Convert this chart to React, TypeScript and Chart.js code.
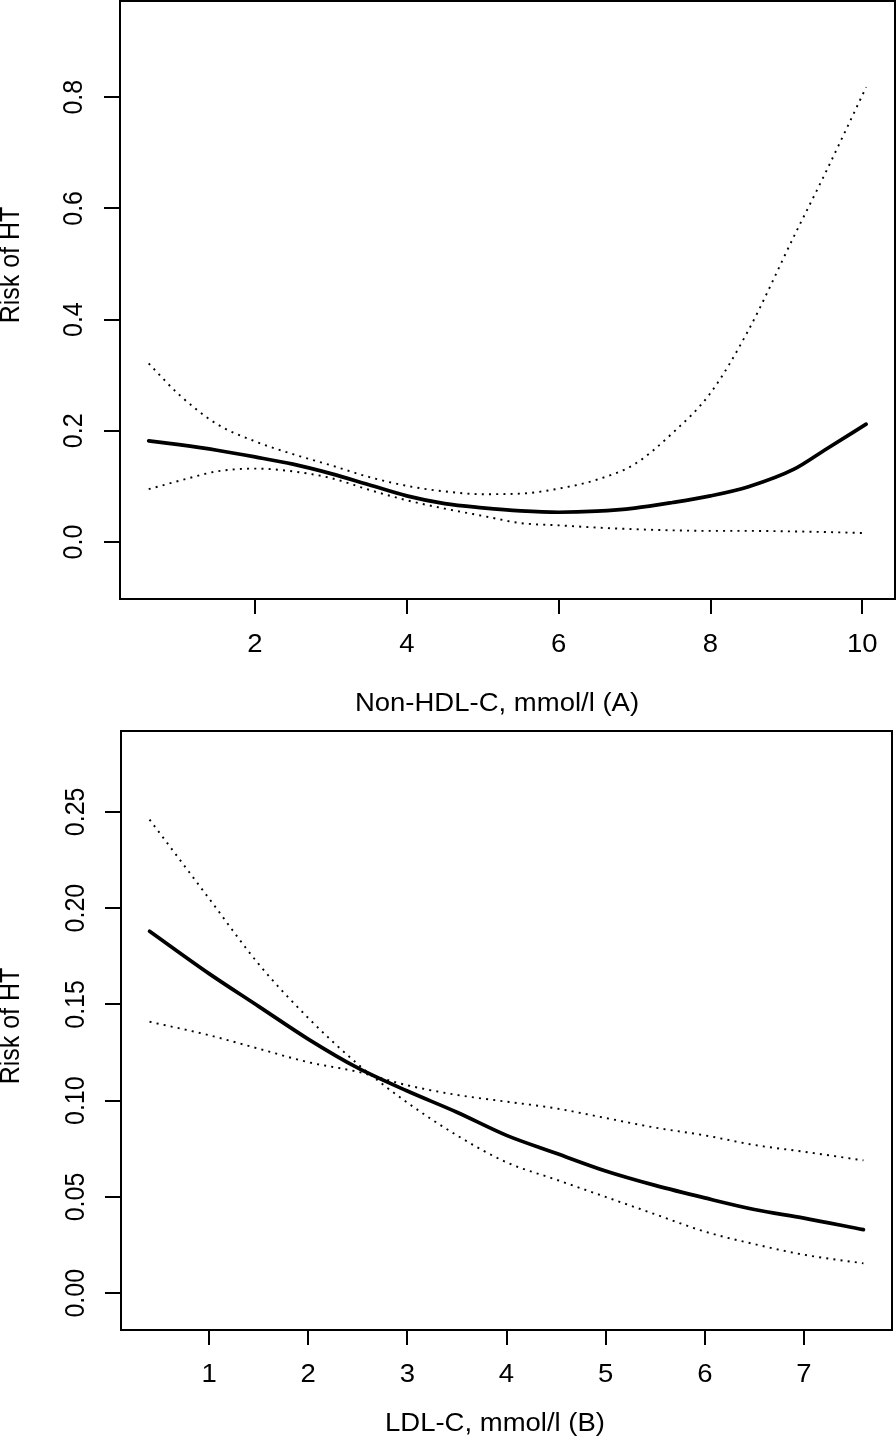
import React, { useEffect, useRef } from "react";
import { Chart, registerables } from "chart.js";

Chart.register(...registerables);

const FONT = '"Liberation Sans", Arial, Helvetica, sans-serif';

// ---------- Panel A: Non-HDL-C ----------
const xA = [0.6, 1.0, 1.5, 2.0, 2.5, 3.0, 3.5, 4.0, 4.5, 5.0, 5.5, 6.0, 6.5, 7.0, 7.5, 8.0, 8.5, 9.1, 9.5, 10.05];
const riskA = [0.182, 0.175, 0.165, 0.153, 0.140, 0.123, 0.103, 0.083, 0.069, 0.0615, 0.056, 0.0535, 0.0555, 0.061, 0.071, 0.083, 0.0995, 0.131, 0.165, 0.212];
const upperA = [0.321, 0.265, 0.212, 0.181, 0.158, 0.138, 0.117, 0.101, 0.091, 0.086, 0.087, 0.096, 0.112, 0.140, 0.196, 0.268, 0.381, 0.550, 0.660, 0.818];
const lowerA = [0.095, 0.110, 0.127, 0.132, 0.127, 0.115, 0.094, 0.075, 0.060, 0.047, 0.034, 0.030, 0.026, 0.023, 0.021, 0.020, 0.020, 0.019, 0.018, 0.016];
const xTicksA = [2, 4, 6, 8, 10];
const xTickLabelsA = ["2", "4", "6", "8", "10"];
const yTicksA = [0, 0.2, 0.4, 0.6, 0.8];
const yTickLabelsA = ["0.0", "0.2", "0.4", "0.6", "0.8"];
const xTitleA = "Non-HDL-C, mmol/l (A)";

// ---------- Panel B: LDL-C ----------
const xB = [0.4, 1.0, 1.5, 2.0, 2.5, 3.0, 3.5, 4.0, 4.5, 5.0, 5.5, 6.0, 6.5, 7.0, 7.6];
const riskB = [0.188, 0.166, 0.149, 0.132, 0.117, 0.105, 0.094, 0.082, 0.0727, 0.0635, 0.056, 0.0495, 0.0435, 0.039, 0.033];
const upperB = [0.246, 0.205, 0.171, 0.143, 0.119, 0.099, 0.082, 0.068, 0.059, 0.050, 0.041, 0.032, 0.0255, 0.020, 0.0155];
const lowerB = [0.141, 0.134, 0.127, 0.120, 0.115, 0.108, 0.103, 0.0995, 0.096, 0.091, 0.086, 0.082, 0.077, 0.0735, 0.069];
const xTicksB = [1, 2, 3, 4, 5, 6, 7];
const xTickLabelsB = ["1", "2", "3", "4", "5", "6", "7"];
const yTicksB = [0, 0.05, 0.1, 0.15, 0.2, 0.25];
const yTickLabelsB = ["0.00", "0.05", "0.10", "0.15", "0.20", "0.25"];
const xTitleB = "LDL-C, mmol/l (B)";

const yTitle = "Risk of HT";

function drawText(ctx: CanvasRenderingContext2D, s: string, x: number, y: number, rot: number, sx: number) {
  ctx.save();
  ctx.translate(x, y);
  ctx.scale(sx, 1);
  ctx.rotate(rot);
  ctx.fillText(s, 0, 0);
  ctx.restore();
}

const rText = {
  id: "rText",
  afterDraw(chart: any, _args: any, o: any) {
    const ctx: CanvasRenderingContext2D = chart.ctx;
    const { left, top, right, bottom } = chart.chartArea;
    const xs = chart.scales.x;
    const ys = chart.scales.y;
    ctx.save();
    ctx.strokeStyle = "#000";
    ctx.lineWidth = 2;
    ctx.strokeRect(left, top, right - left, bottom - top);
    ctx.fillStyle = "#000";
    ctx.font = `${o.fontSize}px ${FONT}`;
    ctx.textAlign = "center";
    ctx.textBaseline = "alphabetic";
    xs.ticks.forEach((t: any, i: number) => {
      drawText(ctx, o.xLabels[i], xs.getPixelForValue(t.value), o.xTickBase, 0, o.stretch);
    });
    ys.ticks.forEach((t: any, i: number) => {
      drawText(ctx, o.yLabels[i], o.yTickBase, ys.getPixelForValue(t.value), -Math.PI / 2, o.stretch);
    });
    drawText(ctx, o.xTitle, o.xTitleX, o.xTitleBase, 0, o.stretch);
    drawText(ctx, o.yTitle, o.yTitleBase, o.yTitleY, -Math.PI / 2, o.stretch);
    ctx.restore();
  },
};

type PanelProps = {
  xs: number[]; mid: number[]; up: number[]; lo: number[];
  xTicks: number[]; xLabels: string[]; yTicks: number[]; yLabels: string[];
  xMin: number; xMax: number; yMin: number; yMax: number;
  xTitle: string;
  pad: { top: number; right: number };
  yAxisW: number; xAxisH: number;
  text: any;
};

function Panel(p: PanelProps) {
  const ref = useRef<HTMLCanvasElement>(null);
  useEffect(() => {
    if (!ref.current) return;
    const pts = (ys: number[]) => p.xs.map((x, i) => ({ x, y: ys[i] }));
    const dotted = {
      borderColor: "#000",
      borderWidth: 1.9,
      borderDash: [2, 5.2],
      pointRadius: 0,
      fill: false,
      cubicInterpolationMode: "monotone" as const,
    };
    const chart = new Chart(ref.current, {
      type: "scatter",
      data: {
        datasets: [
          { data: pts(p.up), showLine: true, ...dotted },
          { data: pts(p.lo), showLine: true, ...dotted },
          {
            data: pts(p.mid), showLine: true, borderColor: "#000", borderWidth: 3.7,
            borderCapStyle: "round", borderJoinStyle: "round", pointRadius: 0, fill: false,
            cubicInterpolationMode: "monotone",
          },
        ],
      },
      options: {
        animation: false,
        responsive: false,
        events: [],
        layout: { padding: { left: 0, top: p.pad.top, right: p.pad.right, bottom: 0 } },
        plugins: {
          legend: { display: false },
          tooltip: { enabled: false },
          rText: { ...p.text, xLabels: p.xLabels, yLabels: p.yLabels, xTitle: p.xTitle, yTitle },
        } as any,
        scales: {
          x: {
            type: "linear",
            min: p.xMin,
            max: p.xMax,
            afterBuildTicks: (s: any) => { s.ticks = p.xTicks.map((v) => ({ value: v })); },
            afterFit: (s: any) => { s.height = p.xAxisH; },
            ticks: { display: false },
            grid: { display: true, drawOnChartArea: false, drawTicks: true, tickLength: 15, color: "#000", lineWidth: 2 },
            border: { display: false },
          },
          y: {
            type: "linear",
            min: p.yMin,
            max: p.yMax,
            afterBuildTicks: (s: any) => { s.ticks = p.yTicks.map((v) => ({ value: v })); },
            afterFit: (s: any) => { s.width = p.yAxisW; },
            ticks: { display: false },
            grid: { display: true, drawOnChartArea: false, drawTicks: true, tickLength: 16, color: "#000", lineWidth: 2 },
            border: { display: false },
          },
        },
      },
      plugins: [rText as any],
    });
    return () => chart.destroy();
  }, []);
  return <canvas ref={ref} width={896} height={721} style={{ display: "block", width: 896, height: 721 }} />;
}

export default function App() {
  return (
    <div style={{ position: "absolute", left: 0, top: 0, width: 896, height: 1442, background: "#fff" }}>
      <Panel
        xs={xA} mid={riskA} up={upperA} lo={lowerA}
        xTicks={xTicksA} xLabels={xTickLabelsA} yTicks={yTicksA} yLabels={yTickLabelsA}
        xMin={0.222} xMax={10.43} yMin={-0.1025} yMax={0.973}
        xTitle={xTitleA}
        pad={{ top: 1, right: 1 }} yAxisW={120} xAxisH={122}
        text={{ fontSize: 25, stretch: 1.1, xTickBase: 652, yTickBase: 82, xTitleX: 497, xTitleBase: 711, yTitleBase: 18.5, yTitleY: 265 }}
      />
      <Panel
        xs={xB} mid={riskB} up={upperB} lo={lowerB}
        xTicks={xTicksB} xLabels={xTickLabelsB} yTicks={yTicksB} yLabels={yTickLabelsB}
        xMin={0.112} xMax={7.888} yMin={-0.0191} yMax={0.292}
        xTitle={xTitleB}
        pad={{ top: 10, right: 4 }} yAxisW={121} xAxisH={112}
        text={{ fontSize: 25, stretch: 1.1, xTickBase: 660.7, yTickBase: 84, xTitleX: 495, xTitleBase: 710, yTitleBase: 18.5, yTitleY: 305 }}
      />
    </div>
  );
}
